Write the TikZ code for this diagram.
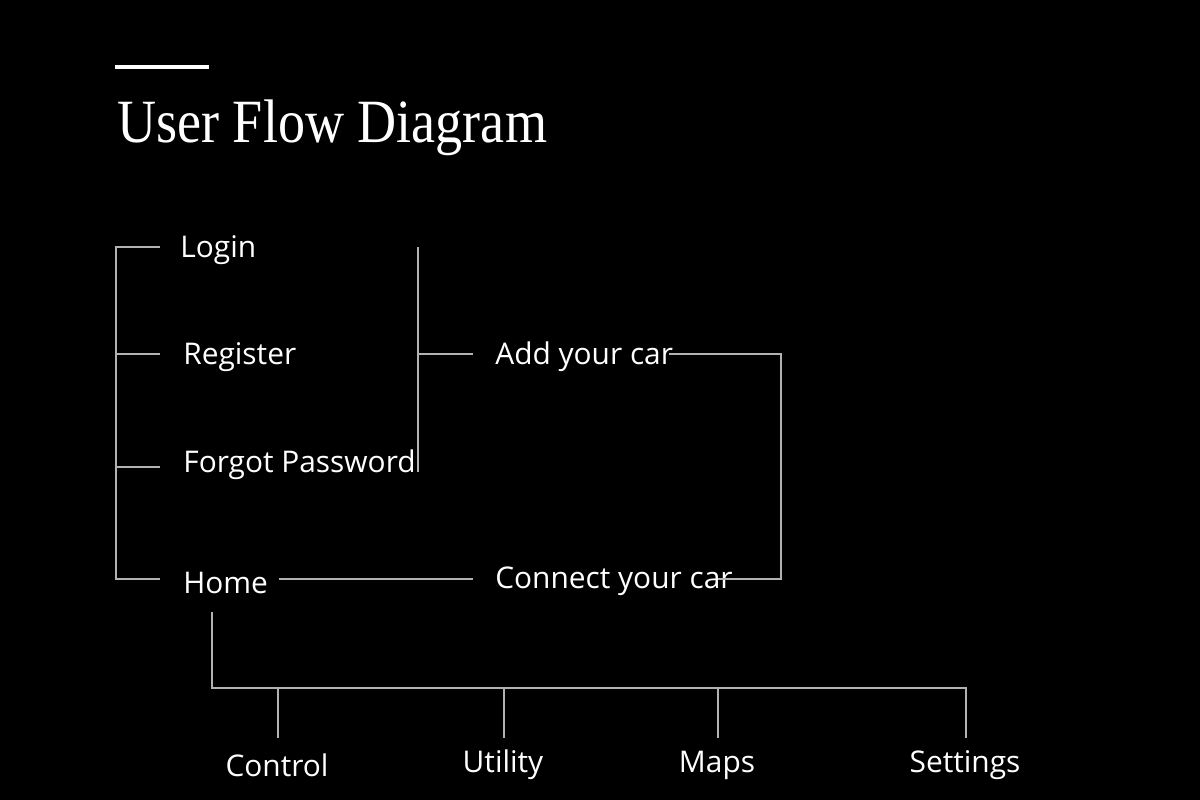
\documentclass[tikz,border=0pt]{standalone}
\usepackage{fontspec}
\setmainfont{Liberation Serif}
\newfontfamily\lbl{Open Sans}
\begin{document}
\begin{tikzpicture}[x=0.02cm,y=-0.02cm,
  lab/.style={font=\lbl\fontsize{17}{20}\selectfont, text=white, inner sep=0pt},
  labl/.style={lab, anchor=west},
  con/.style={draw=white!70!black, line width=0.6pt}]
\fill[black] (0,0) rectangle (1200,800);
\useasboundingbox (0,0) rectangle (1200,800);
\draw[white, line width=2pt] (115,67) -- (209,67);
\node[anchor=base west, inner sep=0pt, text=white, font=\fontsize{35}{40}\selectfont\addfontfeatures{FakeStretch=0.88}] (title) at (117,143) {User Flow Diagram};
% labels
\node[labl] (login) at (180,250) {Login};
\node[labl] (reg) at (183,357) {Register};
\node[labl] (forgot) at (183,465) {Forgot Password};
\node[labl] (home) at (183,583) {Home};
\node[labl] (add) at (495,357) {Add your car};
\node[labl] (conn) at (495,581) {Connect your car};
\node[lab] (control) at (277,765) {Control};
\node[lab] (utility) at (503,765) {Utility};
\node[lab] (maps) at (717,765) {Maps};
\node[lab] (settings) at (965,765) {Settings};
% coordinates
\coordinate (l1) at (160,247); \coordinate (l2) at (160,354);
\coordinate (l3) at (160,467); \coordinate (l4) at (160,579);
\draw[con] (l1) -- (116,247) -- (116,579) -- (l4);
\draw[con] (116,354) -- (l2);
\draw[con] (116,467) -- (l3);
\draw[con] (418,247) -- (418,472);
\draw[con] (418,354) -- (473,354);
\draw[con] (669,354) -- (781,354) -- (781,579) -- (718,579);
\draw[con] (279,579) -- (473,579);
\draw[con] (212,612) -- (212,688) -- (966,688) -- (966,738);
\draw[con] (278,688) -- (278,738);
\draw[con] (504,688) -- (504,738);
\draw[con] (718,688) -- (718,738);
\end{tikzpicture}
\end{document}
